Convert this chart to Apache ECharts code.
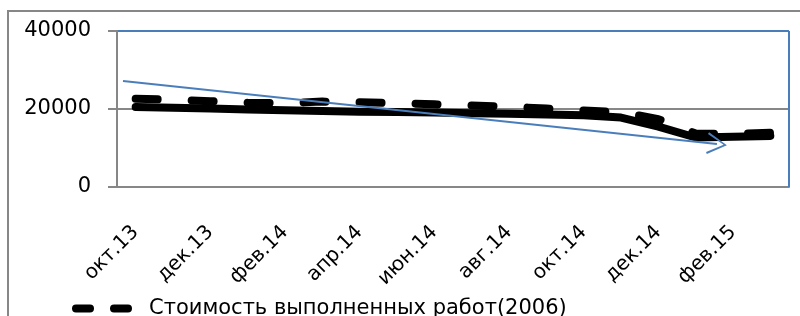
<!DOCTYPE html>
<html><head><meta charset="utf-8">
<script src="https://cdn.jsdelivr.net/npm/echarts@6/dist/echarts.min.js"></script>
<style>html,body{margin:0;padding:0;background:#fff}#c{width:800px;height:316px}</style>
</head><body><div id="c"></div>
<script>
const categories = ['окт.13','ноя.13','дек.13','янв.14','фев.14','мар.14','апр.14','май.14','июн.14','июл.14','авг.14','сен.14','окт.14','ноя.14','дек.14','янв.15','фев.15','мар.15'];
const dashedName = 'Стоимость выполненных работ(2006)';
const dashedValues = [22600,22400,22000,21600,21500,21900,21700,21500,21200,20900,20600,20100,19600,19200,17400,13700,13600,13900];
const solidName = 'Стоимость выполненных работ';
const solidValues = [20500,20300,20100,19900,19700,19500,19300,19200,19100,18900,18800,18600,18400,17800,15500,12700,12900,13100];
const trendStart = [-0.34, 27200];
const trendEnd = [15.57, 11000];
const yTicks = {min: 0, max: 40000, interval: 20000};

const FONT = 'DejaVu Sans';
const gray = '#878787';
const blue = '#4a7ebb';
const chart = echarts.init(document.getElementById('c'), null, {renderer: 'canvas'});
chart.setOption({
  animation: false,
  textStyle: {fontFamily: FONT, color: '#000'},
  graphic: [{type: 'rect', shape: {x: 8, y: 11, width: 900, height: 400}, style: {fill: 'none', stroke: gray, lineWidth: 2}, z: -1}],
  grid: {left: 117, right: 11, top: 31, bottom: 129},
  legend: {
    data: [dashedName], left: 72, bottom: -3, padding: 0, itemWidth: 56, itemHeight: 10, itemGap: 22,
    textStyle: {fontFamily: FONT, fontSize: 21, color: '#000', padding: [0, 0, 0, 12]},
    lineStyle: {width: 8, type: [14, 24], cap: 'round'},
    itemStyle: {opacity: 0}
  },
  xAxis: [{
    type: 'category', data: categories, boundaryGap: true,
    axisLine: {lineStyle: {color: gray, width: 2}},
    axisTick: {interval: 1, length: 7, lineStyle: {color: gray, width: 2}},
    axisLabel: {interval: 1, rotate: 45, fontSize: 20, color: '#000', fontFamily: FONT, margin: 42}
  }, {
    type: 'value', min: -0.5, max: 17.5, show: false
  }],
  yAxis: [{
    type: 'value', min: yTicks.min, max: yTicks.max, interval: yTicks.interval,
    axisLine: {show: true, onZero: false, lineStyle: {color: gray, width: 2}},
    axisTick: {show: true, length: 9, lineStyle: {color: gray, width: 2}},
    axisLabel: {fontSize: 21, color: '#000', fontFamily: FONT, margin: 26, formatter: v => String(v)},
    splitLine: {show: true, lineStyle: {color: [gray, gray, blue], width: 2}}
  }],
  series: [{
    name: solidName, type: 'line', data: solidValues, showSymbol: false, symbol: 'none', z: 3,
    lineStyle: {color: '#000', width: 8, cap: 'round', join: 'round'}, itemStyle: {color: '#000'}
  }, {
    name: dashedName, type: 'line', data: dashedValues, showSymbol: false, symbol: 'none', z: 4,
    lineStyle: {color: '#000', width: 8, type: [22, 34], cap: 'round', join: 'round', dashOffset: 0},
    itemStyle: {color: '#000'}
  }, {
    name: 'trend', type: 'line', xAxisIndex: 1, data: [], z: 5,
    markLine: {
      silent: true, animation: false,
      symbol: ['none', 'none'],
      label: {show: false},
      lineStyle: {color: blue, width: 2, type: 'solid'},
      data: [
        [{coord: trendStart, symbol: 'none'}, {coord: trendEnd, symbol: 'path://M0,0 L10,20 L8.2,21 L0,3.5 L-8.2,21 L-10,20 Z', symbolSize: [22, 20]}],
        {xAxis: 17.5}
      ]
    }
  }]
});
</script></body></html>
